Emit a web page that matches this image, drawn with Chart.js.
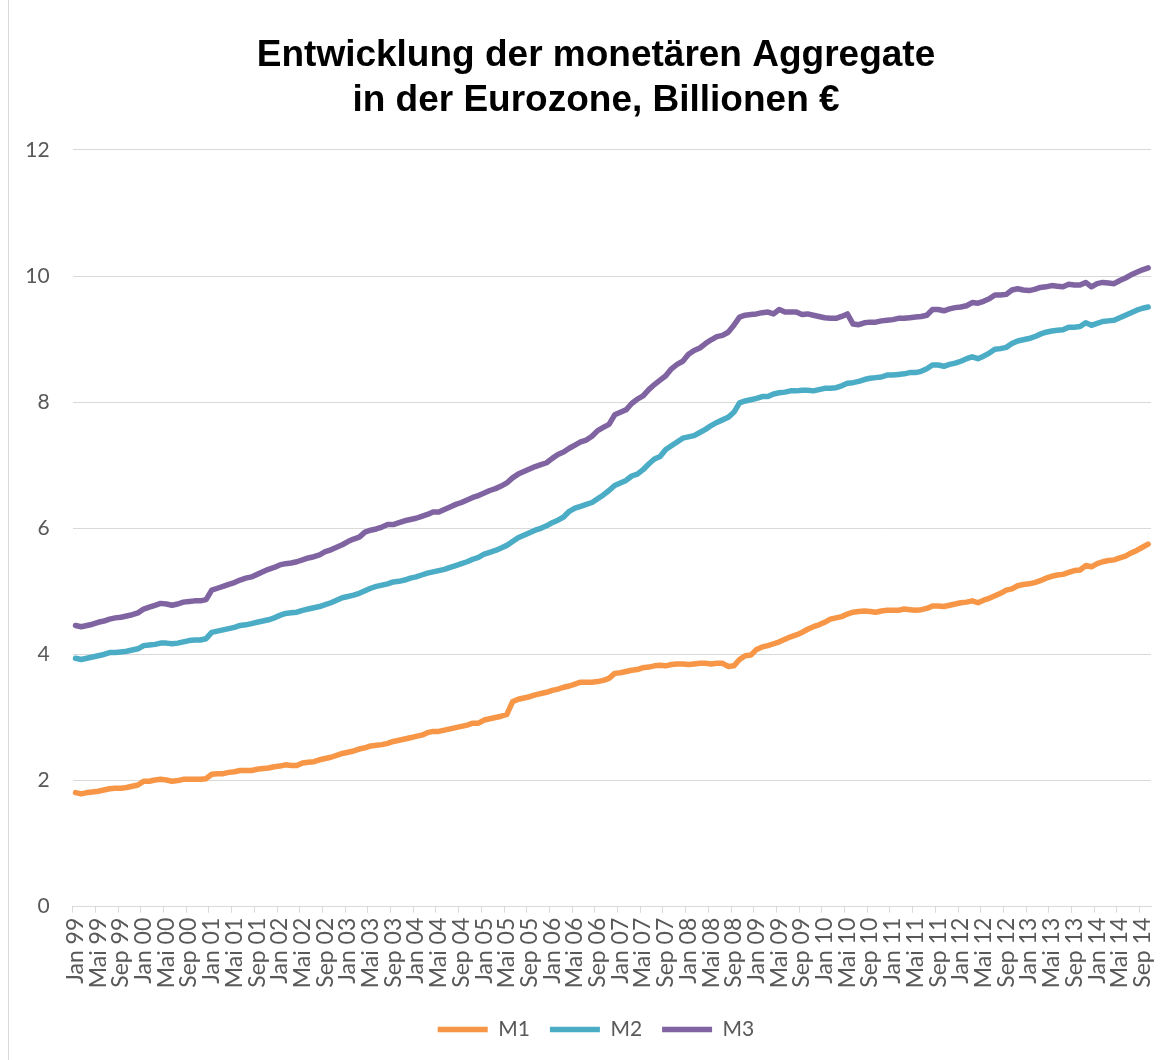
<!DOCTYPE html>
<html lang="de">
<head>
<meta charset="utf-8">
<title>Monetäre Aggregate Eurozone</title>
<script src="https://cdn.jsdelivr.net/npm/chart.js@4"></script>
<style>
  html, body { margin: 0; padding: 0; background: #fff; }
  #wrap { position: relative; width: 1170px; height: 1060px; }
  #frame { position: absolute; left: 8px; top: 0; width: 1px; height: 1060px; background: #d9d9d9; }
</style>
</head>
<body>
<div id="wrap">
  <div id="frame"></div>
  <canvas id="chart"></canvas>
</div>
<script>
/* Monatsdaten Jan 99 – Okt 14, Billionen € */
const MONTHS = ['Jan', 'Feb', 'Mrz', 'Apr', 'Mai', 'Jun', 'Jul', 'Aug', 'Sep', 'Okt', 'Nov', 'Dez'];
const YEARS = ['99', '00', '01', '02', '03', '04', '05', '06', '07', '08', '09', '10', '11', '12', '13', '14'];
const LAST_MONTH = 9; // Okt 14

const m1 = [
  1.81, 1.79, 1.81, 1.82, 1.83, 1.85, 1.87, 1.88, 1.88, 1.89, 1.91, 1.93,
  1.99, 1.99, 2.01, 2.02, 2.01, 1.99, 2.00, 2.02, 2.02, 2.02, 2.02, 2.03,
  2.10, 2.11, 2.11, 2.13, 2.14, 2.16, 2.16, 2.16, 2.18, 2.19, 2.20, 2.22,
  2.23, 2.25, 2.24, 2.24, 2.28, 2.29, 2.30, 2.33, 2.35, 2.37, 2.40, 2.43,
  2.45, 2.47, 2.50, 2.52, 2.55, 2.56, 2.57, 2.59, 2.62, 2.64, 2.66, 2.68,
  2.70, 2.72, 2.76, 2.78, 2.78, 2.80, 2.82, 2.84, 2.86, 2.88, 2.91, 2.91,
  2.96, 2.98, 3.00, 3.02, 3.05, 3.25, 3.29, 3.31, 3.33, 3.36, 3.38, 3.40,
  3.43, 3.45, 3.48, 3.50, 3.53, 3.56, 3.56, 3.56, 3.57, 3.59, 3.62, 3.70,
  3.71, 3.73, 3.75, 3.76, 3.79, 3.80, 3.82, 3.83, 3.82, 3.84, 3.85, 3.85,
  3.84, 3.85, 3.86, 3.86, 3.85, 3.86, 3.86, 3.81, 3.82, 3.92, 3.98, 3.99,
  4.08, 4.12, 4.14, 4.17, 4.20, 4.24, 4.28, 4.31, 4.35, 4.40, 4.44, 4.47,
  4.51, 4.56, 4.58, 4.60, 4.64, 4.67, 4.68, 4.69, 4.68, 4.67, 4.69, 4.70,
  4.70, 4.70, 4.72, 4.71, 4.70, 4.71, 4.73, 4.77, 4.77, 4.76, 4.78, 4.80,
  4.82, 4.83, 4.85, 4.82, 4.86, 4.89, 4.93, 4.97, 5.02, 5.04, 5.09, 5.11,
  5.12, 5.14, 5.17, 5.21, 5.24, 5.26, 5.27, 5.30, 5.33, 5.34, 5.41, 5.39,
  5.44, 5.47, 5.49, 5.50, 5.53, 5.56, 5.61, 5.65, 5.70, 5.75,
];

const m2 = [
  3.94, 3.92, 3.94, 3.96, 3.98, 4.00, 4.03, 4.03, 4.04, 4.05, 4.07, 4.09,
  4.14, 4.15, 4.16, 4.18, 4.18, 4.17, 4.18, 4.20, 4.22, 4.23, 4.23, 4.25,
  4.35, 4.37, 4.39, 4.41, 4.43, 4.46, 4.47, 4.49, 4.51, 4.53, 4.55, 4.58,
  4.62, 4.65, 4.66, 4.67, 4.70, 4.72, 4.74, 4.76, 4.79, 4.82, 4.86, 4.90,
  4.92, 4.94, 4.97, 5.01, 5.05, 5.08, 5.10, 5.12, 5.15, 5.16, 5.18, 5.21,
  5.23, 5.26, 5.29, 5.31, 5.33, 5.35, 5.38, 5.41, 5.44, 5.47, 5.51, 5.54,
  5.59, 5.62, 5.65, 5.69, 5.73, 5.79, 5.85, 5.89, 5.93, 5.97, 6.00, 6.04,
  6.09, 6.13, 6.18, 6.27, 6.32, 6.35, 6.38, 6.41, 6.47, 6.53, 6.60, 6.68,
  6.72, 6.76, 6.83, 6.86, 6.93, 7.02, 7.10, 7.14, 7.25, 7.31, 7.37, 7.43,
  7.45, 7.47, 7.52, 7.57, 7.63, 7.68, 7.72, 7.76, 7.84, 7.99, 8.02, 8.04,
  8.06, 8.09, 8.09, 8.13, 8.15, 8.16, 8.18, 8.18, 8.19, 8.19, 8.18, 8.20,
  8.22, 8.22, 8.23, 8.26, 8.30, 8.31, 8.33, 8.36, 8.38, 8.39, 8.40, 8.43,
  8.43, 8.44, 8.45, 8.47, 8.47, 8.49, 8.53, 8.59, 8.59, 8.57, 8.60, 8.62,
  8.65, 8.69, 8.72, 8.69, 8.73, 8.78, 8.84, 8.85, 8.87, 8.93, 8.97, 8.99,
  9.01, 9.04, 9.08, 9.11, 9.13, 9.14, 9.15, 9.19, 9.19, 9.20, 9.26, 9.22,
  9.25, 9.28, 9.29, 9.30, 9.34, 9.38, 9.42, 9.46, 9.49, 9.51,
];

const m3 = [
  4.46, 4.44, 4.46, 4.48, 4.51, 4.53, 4.56, 4.58, 4.59, 4.61, 4.63, 4.66,
  4.72, 4.75, 4.78, 4.81, 4.80, 4.78, 4.80, 4.83, 4.84, 4.85, 4.85, 4.87,
  5.02, 5.05, 5.08, 5.11, 5.14, 5.18, 5.21, 5.23, 5.27, 5.31, 5.35, 5.38,
  5.42, 5.44, 5.45, 5.47, 5.50, 5.53, 5.55, 5.58, 5.63, 5.66, 5.70, 5.74,
  5.79, 5.83, 5.86, 5.94, 5.97, 5.99, 6.02, 6.06, 6.06, 6.09, 6.12, 6.14,
  6.16, 6.19, 6.22, 6.26, 6.26, 6.30, 6.34, 6.38, 6.41, 6.45, 6.49, 6.52,
  6.56, 6.60, 6.63, 6.67, 6.72, 6.80, 6.86, 6.90, 6.94, 6.98, 7.01, 7.04,
  7.11, 7.17, 7.21, 7.27, 7.32, 7.37, 7.40, 7.46, 7.55, 7.60, 7.65, 7.80,
  7.84, 7.88, 7.98, 8.05, 8.10, 8.20, 8.28, 8.35, 8.42, 8.53, 8.60, 8.65,
  8.76, 8.82, 8.86, 8.93, 8.99, 9.04, 9.06, 9.11, 9.22, 9.35, 9.38, 9.39,
  9.40, 9.42, 9.43, 9.40, 9.47, 9.43, 9.43, 9.43, 9.39, 9.40, 9.38, 9.36,
  9.34, 9.33, 9.33, 9.36, 9.40, 9.24, 9.23, 9.26, 9.27, 9.27, 9.29, 9.30,
  9.31, 9.33, 9.33, 9.34, 9.35, 9.36, 9.38, 9.47, 9.47, 9.45, 9.48, 9.50,
  9.51, 9.53, 9.58, 9.57, 9.60, 9.64, 9.70, 9.70, 9.71, 9.78, 9.80, 9.78,
  9.77, 9.79, 9.82, 9.83, 9.85, 9.84, 9.83, 9.87, 9.86, 9.86, 9.90, 9.83,
  9.88, 9.90, 9.89, 9.88, 9.93, 9.97, 10.02, 10.06, 10.10, 10.13,
];

const seriesNames = ['M1', 'M2', 'M3'];
const seriesColors = ['#F79646', '#4BACC6', '#8064A2'];
const yTicks = [0, 2, 4, 6, 8, 10, 12];
const titleLines = ['Entwicklung der monetären Aggregate', 'in der Eurozone, Billionen €'];

// Kategorien: "Jan 99" … "Okt 14"
const labels = [];
YEARS.forEach((y, yi) => {
  MONTHS.forEach((m, mi) => {
    if (yi === YEARS.length - 1 && mi > LAST_MONTH) return;
    labels.push(m + ' ' + y);
  });
});

const TEXT = '#595959';
const GRID = '#d9d9d9';
const FONT = 'Lato, "Open Sans", sans-serif';
const LABEL_EVERY = 4;

const datasets = [m1, m2, m3].map((data, i) => ({
  label: seriesNames[i],
  data,
  borderColor: seriesColors[i],
  backgroundColor: seriesColors[i],
  borderWidth: 5.5,
  borderJoinStyle: 'round',
  borderCapStyle: 'round',
  pointRadius: 0,
  pointHoverRadius: 0,
  tension: 0,
  fill: false,
}));

new Chart(document.getElementById('chart'), {
  type: 'line',
  data: { labels, datasets },
  options: {
    responsive: true,
    maintainAspectRatio: false,
    animation: false,
    layout: { padding: { left: 22, right: 0, top: 0, bottom: 10 } },
    plugins: {
      title: {
        display: true,
        text: titleLines,
        color: '#000',
        font: { family: '"Liberation Sans", Arial, sans-serif', size: 37, weight: 'bold', lineHeight: 1.216 },
        padding: { top: 33, bottom: 27 },
      },
      legend: {
        display: true,
        position: 'bottom',
        labels: {
          color: TEXT,
          font: { family: FONT, size: 21 },
          usePointStyle: true,
          pointStyle: 'line',
          pointStyleWidth: 50,
          padding: 20,
        },
      },
      tooltip: { enabled: false },
    },
    scales: {
      x: {
        type: 'category',
        offset: true,
        afterFit: (s) => { s.height = 92.3; s.paddingLeft = 0; s.paddingRight = 0; },
        grid: {
          display: true,
          offset: true,
          drawOnChartArea: false,
          drawTicks: true,
          tickLength: 6,
          color: (c) => (c.index % LABEL_EVERY === 0 ? GRID : 'rgba(0,0,0,0)'),
        },
        border: { display: true, color: GRID, width: 1 },
        ticks: {
          autoSkip: false,
          minRotation: 90,
          maxRotation: 90,
          padding: 5,
          color: TEXT,
          font: { family: FONT, size: 23 },
          callback: (v, i) => (i % LABEL_EVERY === 0 ? labels[i] : ''),
        },
      },
      y: {
        min: yTicks[0],
        max: yTicks[yTicks.length - 1],
        afterFit: (s) => { s.width = 50.7; },
        afterBuildTicks: (s) => { s.ticks = yTicks.map((v) => ({ value: v })); },
        grid: { color: GRID, lineWidth: 1, drawTicks: false },
        border: { display: false },
        ticks: { padding: 23, color: TEXT, font: { family: FONT, size: 21 } },
      },
      // leere Achse rechts, hält den Plot bei x = 1151
      yRight: {
        position: 'right',
        afterFit: (s) => { s.width = 19; },
        grid: { display: false, drawOnChartArea: false },
        border: { display: false },
        ticks: { display: false },
      },
    },
  },
});
</script>
</body>
</html>
